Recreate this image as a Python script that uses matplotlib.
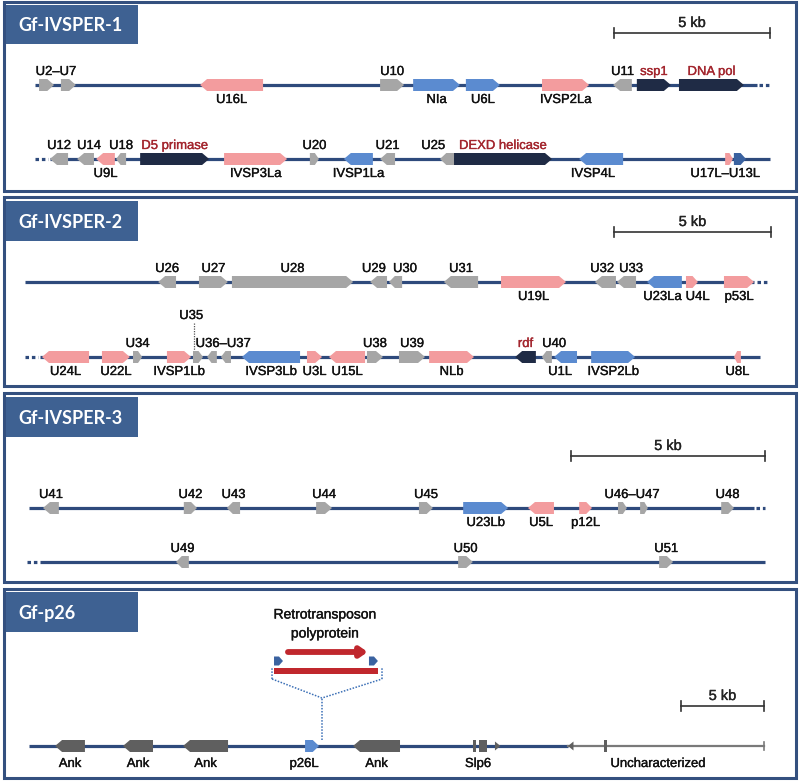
"""Genome maps of the Glypta fumiferanae IVSPER segments and the p26 region."""

import matplotlib
matplotlib.use("Agg")
import matplotlib.pyplot as plt
import matplotlib.patheffects as pe
from matplotlib.patches import Polygon, Rectangle

plt.rcParams["font.family"] = ["Liberation Sans", "DejaVu Sans"]

W, H = 800, 781

GENE_COLORS = {
    "gray": "#a6a6a6", "pink": "#f39c9e", "blue": "#5b8bd0",
    "navy": "#1f2b45", "steel": "#3a62a0", "dark": "#5f5f5f",
}
LINE_COLOR = "#2e4a7c"
BOX_COLOR = "#34507f"
TITLE_FILL = "#3e6192"
RED_TEXT = "#a3262e"

# genes: (label, start kb, end kb, strand, kind[, label x kb])
P1_ROW1 = [
    ("", 0.13, 0.61, 1, "gray"), ("", 0.83, 1.31, 1, "gray"),
    ("U16L", 5.29, 7.31, -1, "pink"), ("U10", 11.06, 11.83, 1, "gray"),
    ("NIa", 12.12, 13.62, 1, "blue"), ("U6L", 13.81, 14.90, 1, "blue"),
    ("IVSP2La", 16.25, 17.76, 1, "pink"), ("U11", 18.53, 19.13, -1, "gray"),
    ("ssp1", 19.29, 20.38, 1, "navy"), ("DNA pol", 20.64, 22.72, 1, "navy"),
]
P1_ROW2 = [
    ("U12", 0.48, 1.06, -1, "gray"), ("U14", 1.35, 1.89, -1, "gray", 1.73),
    ("U9L", 1.96, 2.56, -1, "pink"), ("U18", 2.60, 2.92, -1, "gray"),
    ("D5 primase", 3.37, 5.58, 1, "navy"), ("IVSP3La", 6.06, 8.08, 1, "pink"),
    ("U20", 8.81, 9.10, 1, "gray"), ("IVSP1La", 9.90, 10.83, -1, "blue"),
    ("U21", 11.06, 11.54, -1, "gray"), ("U25", 12.98, 13.43, -1, "gray", 12.76),
    ("DEXD helicase", 13.43, 16.57, 1, "navy"), ("IVSP4L", 17.44, 18.85, -1, "blue", 17.88),
    ("", 22.12, 22.37, 1, "pink"), ("", 22.40, 22.79, 1, "steel"),
]
P2_ROW1 = [
    ("U26", 4.24, 4.81, -1, "gray"), ("U27", 5.54, 6.46, 1, "gray"),
    ("U28", 6.59, 10.45, 1, "gray"), ("U29", 10.99, 11.53, -1, "gray", 11.11),
    ("U30", 11.59, 12.01, -1, "gray", 12.10), ("U31", 13.34, 14.43, -1, "gray"),
    ("U19L", 15.16, 17.23, 1, "pink"), ("U32", 18.15, 18.82, -1, "gray", 18.38),
    ("U33", 18.85, 19.46, -1, "gray", 19.30), ("U23La", 19.81, 20.92, -1, "blue", 20.30),
    ("U4L", 21.05, 21.43, 1, "pink", 21.42), ("p53L", 22.26, 23.22, 1, "pink"),
]
P2_ROW2 = [
    ("U24L", 0.54, 2.04, -1, "pink"), ("U22L", 2.45, 3.34, 1, "pink"),
    ("U34", 3.44, 3.73, 1, "gray"), ("IVSP1Lb", 4.52, 5.29, 1, "pink"),
    ("", 5.35, 5.67, 1, "gray"), ("", 5.80, 6.11, -1, "gray"),
    ("", 6.24, 6.56, -1, "gray"), ("IVSP3Lb", 6.91, 8.76, -1, "blue"),
    ("U3L", 8.98, 9.46, 1, "pink"), ("U15L", 9.68, 10.83, -1, "pink"),
    ("U38", 10.89, 11.40, 1, "gray"), ("U39", 11.91, 12.74, 1, "gray"),
    ("NLb", 12.87, 14.30, 1, "pink"), ("rdf", 15.61, 16.27, -1, "navy"),
    ("U40", 16.46, 16.78, -1, "gray", 16.85), ("U1L", 16.85, 17.58, -1, "blue", 17.04),
    ("IVSP2Lb", 18.03, 19.43, 1, "blue"), ("U8L", 22.58, 22.80, -1, "pink"),
]
P3_ROW1 = [
    ("U41", 0.36, 0.77, -1, "gray"), ("U42", 3.99, 4.33, 1, "gray"),
    ("U43", 5.10, 5.44, -1, "gray"), ("U44", 7.40, 7.81, 1, "gray"),
    ("U45", 10.05, 10.41, 1, "gray"), ("U23Lb", 11.19, 12.35, 1, "blue"),
    ("U5L", 12.86, 13.53, -1, "pink"), ("p12L", 14.18, 14.51, 1, "pink"),
    ("", 15.18, 15.41, 1, "gray"), ("", 15.75, 15.95, 1, "gray"),
    ("U48", 17.84, 18.17, 1, "gray"),
]
P3_ROW2 = [
    ("U49", 3.79, 4.12, -1, "gray"), ("U50", 11.06, 11.44, 1, "gray"),
    ("U51", 16.24, 16.60, 1, "gray"),
]
P4_ROW = [
    ("Ank", 1.57, 3.37, -1, "dark"), ("Ank", 5.66, 7.47, -1, "dark"),
    ("Ank", 9.28, 11.99, -1, "dark"), ("p26L", 16.63, 17.47, 1, "blue", 16.57),
    ("Ank", 19.52, 22.35, -1, "dark"),
    ("", 26.76, 26.92, 0, "dark"), ("", 27.11, 27.59, 0, "dark"),
    ("", 34.61, 34.79, 0, "dark"),
]
# small triangles (start kb, end kb, direction)
P4_TRIANGLES = [(28.07, 28.40, 1), (32.47, 32.80, -1)]

# group labels: (text, x kb, side)
P1_ROW1_GROUPS = [("U2\u2013U7", 0.67, "above")]
P1_ROW2_GROUPS = [("U17L\u2013U13L", 22.12, "below")]
P2_ROW2_GROUPS = [("U36\u2013U37", 6.31, "above")]
P3_ROW1_GROUPS = [("U46\u2013U47", 15.54, "above")]
P4_GROUPS = [("Slp6", 27.05, "below"), ("Uncharacterized", 37.89, "below")]

PANELS = [
    dict(title="Gf-IVSPER-1", box=(2, 191), tbox=(5, 44), origin=35, pxkb=31.2,
         scale=(18.56, 33),
         rows=[dict(y=85, line=(0, 23.14), dots=[(23.22, 23.56)], genes=P1_ROW1, groups=P1_ROW1_GROUPS),
               dict(y=159, line=(0.48, 23.56), dots=[(0, 0.42)], genes=P1_ROW2, groups=P1_ROW2_GROUPS)]),
    dict(title="Gf-IVSPER-2", box=(197, 386), tbox=(201, 241), origin=25, pxkb=31.4,
         scale=(18.76, 232),
         rows=[dict(y=282, line=(0, 23.22), dots=[(23.3, 23.66)], genes=P2_ROW1, groups=[]),
               dict(y=357, line=(0.48, 23.41), dots=[(0, 0.42)], genes=P2_ROW2, groups=P2_ROW2_GROUPS)]),
    dict(title="Gf-IVSPER-3", box=(393, 582), tbox=(397, 437), origin=29, pxkb=38.8,
         scale=(13.97, 456),
         rows=[dict(y=508, line=(0, 18.69), dots=[(18.74, 18.97)], genes=P3_ROW1, groups=P3_ROW1_GROUPS),
               dict(y=562, line=(0.28, 18.97), dots=[(-0.05, 0.25)], genes=P3_ROW2, groups=[])]),
    dict(title="Gf-p26", box=(589, 778), tbox=(592, 632), origin=29, pxkb=16.6,
         scale=(39.28, 706),
         rows=[dict(y=746, line=(0, 32.47), dots=[], genes=P4_ROW, groups=P4_GROUPS)]),
]
SCALE_KB = 5


def heavy(color):
    # slight stroke so the small labels read as dark as the scanned original
    return [pe.withStroke(linewidth=0.25, foreground=color)]


def draw_gene(ax, x0, x1, y, strand, color, pxkb, h=12, head=7):
    hl = min(head, 0.45 * (x1 - x0) * pxkb) / pxkb
    t, b = y - h / 2, y + h / 2
    if strand > 0:
        pts = [(x0, t), (x1 - hl, t), (x1, y), (x1 - hl, b), (x0, b)]
    elif strand < 0:
        pts = [(x1, t), (x0 + hl, t), (x0, y), (x0 + hl, b), (x1, b)]
    else:
        pts = [(x0, t), (x1, t), (x1, b), (x0, b)]
    ax.add_patch(Polygon(pts, closed=True, facecolor=color, edgecolor="none", zorder=3))


def put_label(ax, text, x, y, side, color="#111111", below_off=15):
    yy = y - 13 if side == "above" else y + below_off
    ax.text(x, yy, text, ha="center", va="center", fontsize=9.4, color=color, zorder=5,
            path_effects=heavy(color))


fig = plt.figure(figsize=(W / 100, H / 100), dpi=100)
bg = fig.add_axes([0, 0, 1, 1])
bg.set_xlim(0, W)
bg.set_ylim(H, 0)
bg.axis("off")

for p in PANELS:
    top, bottom = p["box"]
    bg.add_patch(Rectangle((4, top), 792, bottom - top, fill=False, edgecolor=BOX_COLOR, lw=2.2))
    tt, tb = p["tbox"]
    bg.add_patch(Rectangle((6, tt), 132, tb - tt, facecolor=TITLE_FILL, edgecolor="none"))
    bg.text(18, (tt + tb) / 2 + 1, p["title"], color="white", fontsize=13, fontweight="bold",
            family=["Lato", "DejaVu Sans"], ha="left", va="center")

    s = p["pxkb"]
    ax = fig.add_axes([0, 0, 1, 1])
    ax.set_xlim(-p["origin"] / s, (W - p["origin"]) / s)
    ax.set_ylim(H, 0)
    ax.axis("off")

    # scale bar
    sx, sy = p["scale"]
    ax.plot([sx, sx + SCALE_KB], [sy, sy], color="#333333", lw=1.2)
    for xx in (sx, sx + SCALE_KB):
        ax.plot([xx, xx], [sy - 5, sy + 5], color="#333333", lw=1.2)
    ax.text(sx + SCALE_KB / 2, sy - 3, "5 kb", ha="center", va="bottom", fontsize=10.5,
            color="#222222", path_effects=heavy("#222222"))

    is_p26 = p["title"] == "Gf-p26"
    for row in p["rows"]:
        y = row["y"]
        ax.plot(row["line"], [y, y], color=LINE_COLOR, lw=2.3, solid_capstyle="butt", zorder=1)
        for a, b in row["dots"]:
            ax.plot([a, b], [y, y], color=LINE_COLOR, lw=2.3, dashes=(1.1, 0.9), zorder=1)
        for g in row["genes"]:
            label, x0, x1, strand, kind = g[:5]
            draw_gene(ax, x0, x1, y, strand, GENE_COLORS[kind], s)
            if label:
                lx = g[5] if len(g) > 5 else (x0 + x1) / 2
                if is_p26:
                    put_label(ax, label, lx, y, "below", below_off=18)
                elif kind in ("gray", "navy"):
                    put_label(ax, label, lx, y, "above", RED_TEXT if kind == "navy" else "#111111")
                else:
                    put_label(ax, label, lx, y, "below")
        for text, lx, side in row["groups"]:
            put_label(ax, text, lx, y, side, below_off=18 if is_p26 else 15)

    if p["title"] == "Gf-IVSPER-2":
        # U35 label lifted above the crowded region with a dotted leader
        ax.text(5.29, 316, "U35", ha="center", va="center", fontsize=9.4, color="#111111",
                path_effects=heavy("#111111"))
        ax.plot([5.38, 5.38], [323, 350], color="#555555", lw=0.9, ls=(0, (1, 1)))

    if is_p26:
        y = p["rows"][0]["y"]
        ax.plot([32.47, 44.28], [y, y], color="#7a7a7a", lw=1.6, zorder=1)
        ax.plot([44.28, 44.28], [y - 4, y + 4], color="#7a7a7a", lw=1.2)
        for x0, x1, d in P4_TRIANGLES:
            tip, base = (x1, x0) if d > 0 else (x0, x1)
            ax.add_patch(Polygon([(base, y - 4.5), (tip, y), (base, y + 4.5)], closed=True,
                                 facecolor=GENE_COLORS["dark"], edgecolor="none", zorder=3))

        # retrotransposon insertion into p26L
        ins, left, right = 17.65, 14.64, 21.27
        dot = dict(color="#3b6fb6", lw=1.1, ls=(0, (1, 1)))
        ax.plot([ins, ins], [740, 698], **dot)
        ax.plot([left, ins, right], [679, 698, 679], **dot)
        ax.plot([left, left], [679, 668], **dot)
        ax.plot([right, right], [679, 668], **dot)
        ax.add_patch(Rectangle((14.76, 668), 21.02 - 14.76, 6, facecolor="#c0272d", edgecolor="none", zorder=3))
        for x0, x1 in [(14.76, 15.30), (20.48, 21.02)]:
            draw_gene(ax, x0, x1, 661, 1, "#3a62a0", s, h=9, head=4)
        ax.annotate("", xy=(20.40, 652), xytext=(15.60, 652),
                    arrowprops=dict(arrowstyle="-|>,head_length=0.4,head_width=0.28",
                                    color="#c0272d", lw=4.2, shrinkA=0, shrinkB=0))
        ax.text(17.83, 624, "Retrotransposon\npolyprotein", ha="center", va="center",
                fontsize=10, linespacing=1.45, color="#111111", path_effects=heavy("#111111"))

fig.savefig("out.png", dpi=100)
